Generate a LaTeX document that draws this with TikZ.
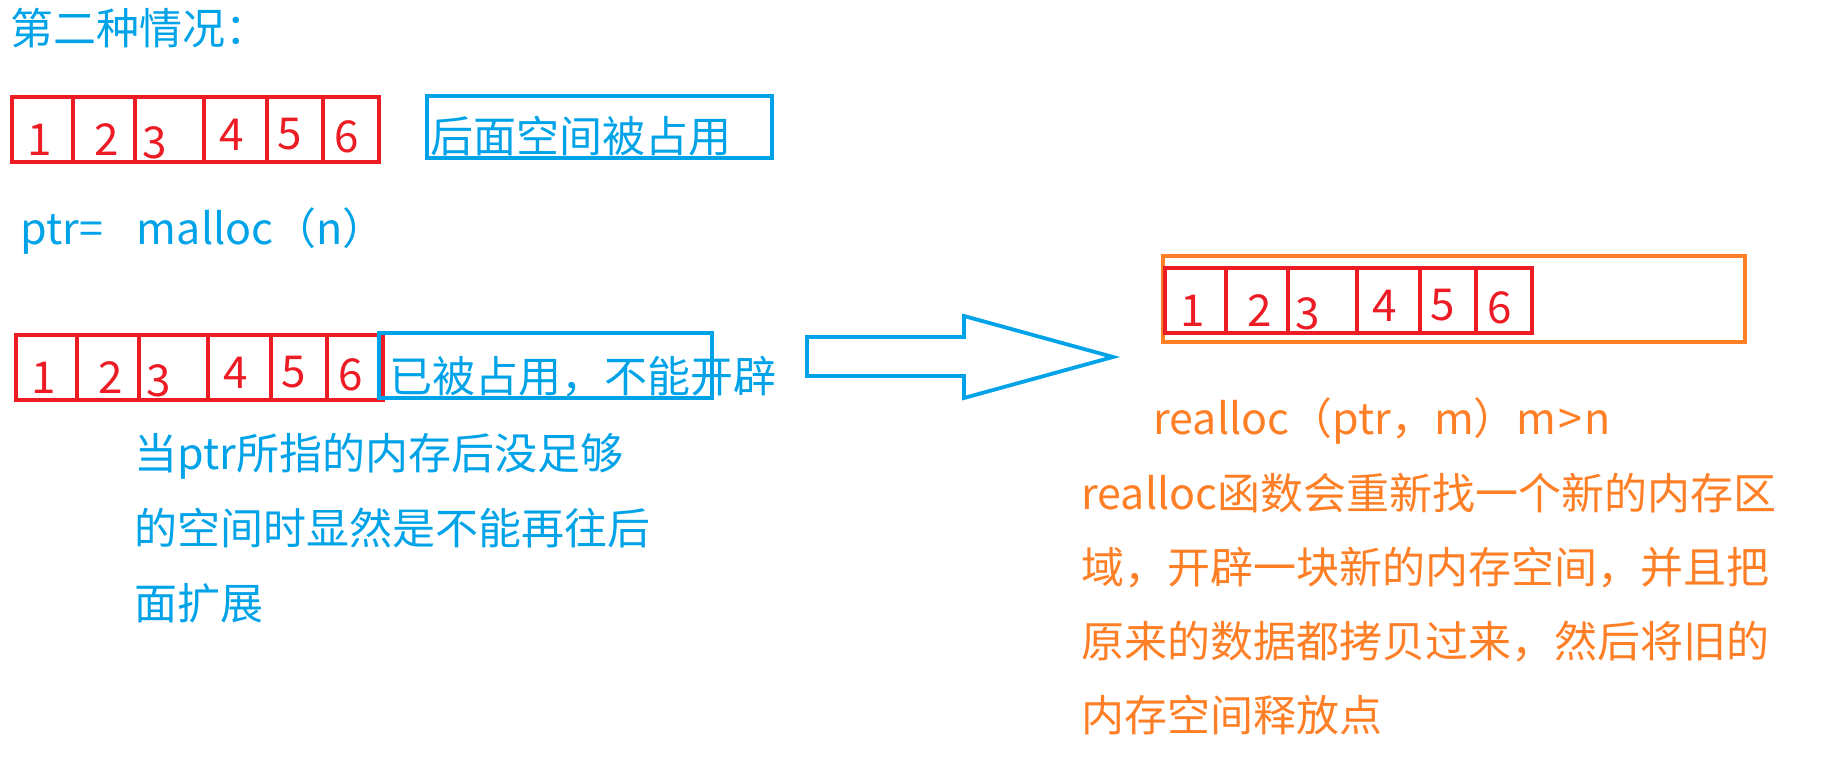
\documentclass[tikz,border=0pt]{standalone}
\usepackage{fontspec}
\newfontfamily\cjk{Noto Sans CJK SC}
\usepackage{xcolor}
\usepackage{tikz}
\usetikzlibrary{positioning}

\definecolor{paintred}{HTML}{ED1C24}
\definecolor{paintblue}{HTML}{00A2E8}
\definecolor{paintorange}{HTML}{FF7F27}

\begin{document}
\begin{tikzpicture}[
  x=0.5pt, y=-0.5pt,
  cell/.style={draw=paintred, line width=1.6pt},
  digit/.style={inner sep=0pt, text=paintred, font=\cjk\fontsize{22}{26}\selectfont},
  bluebox/.style={draw=paintblue, line width=1.9pt},
  orangebox/.style={draw=paintorange, line width=1.9pt},
  bluetxt/.style={inner sep=0pt, anchor=west, align=left, text=paintblue, font=\cjk\fontsize{21.5}{37.5}\selectfont},
  orangetxt/.style={inner sep=0pt, anchor=west, align=left, text=paintorange, font=\cjk\fontsize{21.5}{37}\selectfont}
]

\useasboundingbox (0,0) rectangle (1842,758);

% Heading
\node[bluetxt] (title) at (10,28) {第二种情况：};

% New block (behind the copied row)
\draw[orangebox] (1163,256) rectangle (1745,342);

% Memory rows: x offset / y offset / name prefix
\foreach \ox/\oy/\rw in {0/0/a, 4/238/b, 1153/171/c} {
  \foreach \l/\r/\d/\dx/\dy in {12/73/1/40/140, 73/135/2/107/140, 135/204/3/155/143, 204/267/4/232/135, 267/323/5/290/134, 323/379/6/347/137} {
    \draw[cell] (\l+\ox,97+\oy) rectangle (\r+\ox,162+\oy);
    \node[digit] (\rw\d) at (\dx+\ox,\dy+\oy) {\d};
  }
}

% Space behind the block is taken
\draw[bluebox] (427,96) rectangle (772,158);
\node[bluetxt] (taken) at (430,136) {后面空间被占用};

\node[bluetxt] (malloc) at (20,231) {ptr=\hspace{17pt}malloc（n）};

\draw[bluebox] (379,333) rectangle (712,398);
\node[bluetxt] (nogrow) at (389,377) {已被占用，不能开辟};
\node[bluetxt] (why) at (134,528) {当ptr所指的内存后没足够\\的空间时显然是不能再往后\\面扩展};

% Big arrow
\draw[bluebox, line join=miter] (807,337) -- (964,337) -- (964,316) -- (1113,357)
  -- (964,398) -- (964,376) -- (807,376) -- cycle;

% realloc
\node[orangetxt] (realloc) at (1153,421) {realloc（ptr，m）m\kern1pt>\kern1pt n};
\node[orangetxt] (explain) at (1081,604.5) {realloc函数会重新找一个新的内存区\\域，开辟一块新的内存空间，并且把\\原来的数据都拷贝过来，然后将旧的\\内存空间释放点};

\end{tikzpicture}
\end{document}
